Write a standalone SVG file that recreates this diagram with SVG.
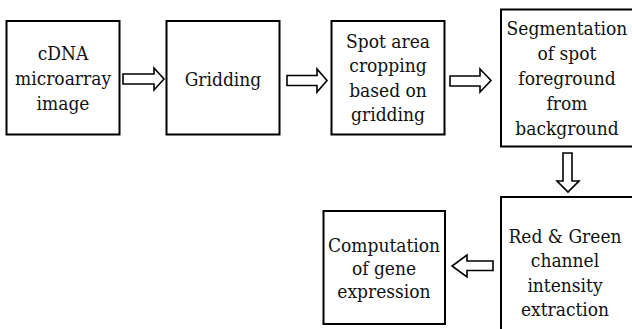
<svg xmlns="http://www.w3.org/2000/svg" width="632" height="329" viewBox="0 0 632 329">
<style>
.box{fill:#fff;stroke:#000;stroke-width:2}
.arr{fill:#fff;stroke:#000;stroke-width:1.6;stroke-linejoin:miter}
.t{fill:#111;text-anchor:middle;font-family:"DejaVu Serif Condensed","DejaVu Serif",serif;font-stretch:condensed;font-size:19px}
</style>
<rect width="632" height="329" fill="#fff"/>
<g id="n1"><rect class="box" x="6.5" y="21" width="113" height="113.5"/>
<text class="t" x="63" y="60">cDNA</text><text class="t" x="63" y="85">microarray</text><text class="t" x="63" y="110">image</text></g>
<g id="n2"><rect class="box" x="166.5" y="21" width="113" height="113.5"/>
<text class="t" x="223" y="86">Gridding</text></g>
<g id="n3"><rect class="box" x="331.5" y="21" width="113" height="113.5"/>
<text class="t" x="388" y="48">Spot area</text><text class="t" x="388" y="72">cropping</text><text class="t" x="388" y="97">based on</text><text class="t" x="388" y="121">gridding</text></g>
<g id="n4"><rect class="box" x="501" y="9.5" width="134" height="137"/>
<text class="t" x="567" y="35">Segmentation</text><text class="t" x="567" y="60">of spot</text><text class="t" x="567" y="85">foreground</text><text class="t" x="567" y="110">from</text><text class="t" x="567" y="135">background</text></g>
<g id="n5"><rect class="box" x="501" y="197" width="134" height="140"/>
<text class="t" x="565" y="243">Red &amp; Green</text><text class="t" x="565" y="267">channel</text><text class="t" x="565" y="292">intensity</text><text class="t" x="565" y="316">extraction</text></g>
<g id="n6"><rect class="box" x="323.5" y="211" width="121.5" height="113"/>
<text class="t" x="384" y="252">Computation</text><text class="t" x="384" y="275">of gene</text><text class="t" x="384" y="298">expression</text></g>
<g id="connectors">
<path class="arr" d="M123,74 H154 V68 L164,79 L154,90 V84 H123 Z"/>
<path class="arr" d="M287,75.5 H317 V69 L327,80.5 L317,92 V85.5 H287 Z"/>
<path class="arr" d="M450,76 H480 V69 L491,80.5 L480,92 V86 H450 Z"/>
<path class="arr" d="M563,153 V181 H557 L568,192 L579,181 H572 V153 Z"/>
<path class="arr" d="M493,261 H467 V255 L452,266 L467,277 V270.5 H493 Z"/>
</g>
</svg>
